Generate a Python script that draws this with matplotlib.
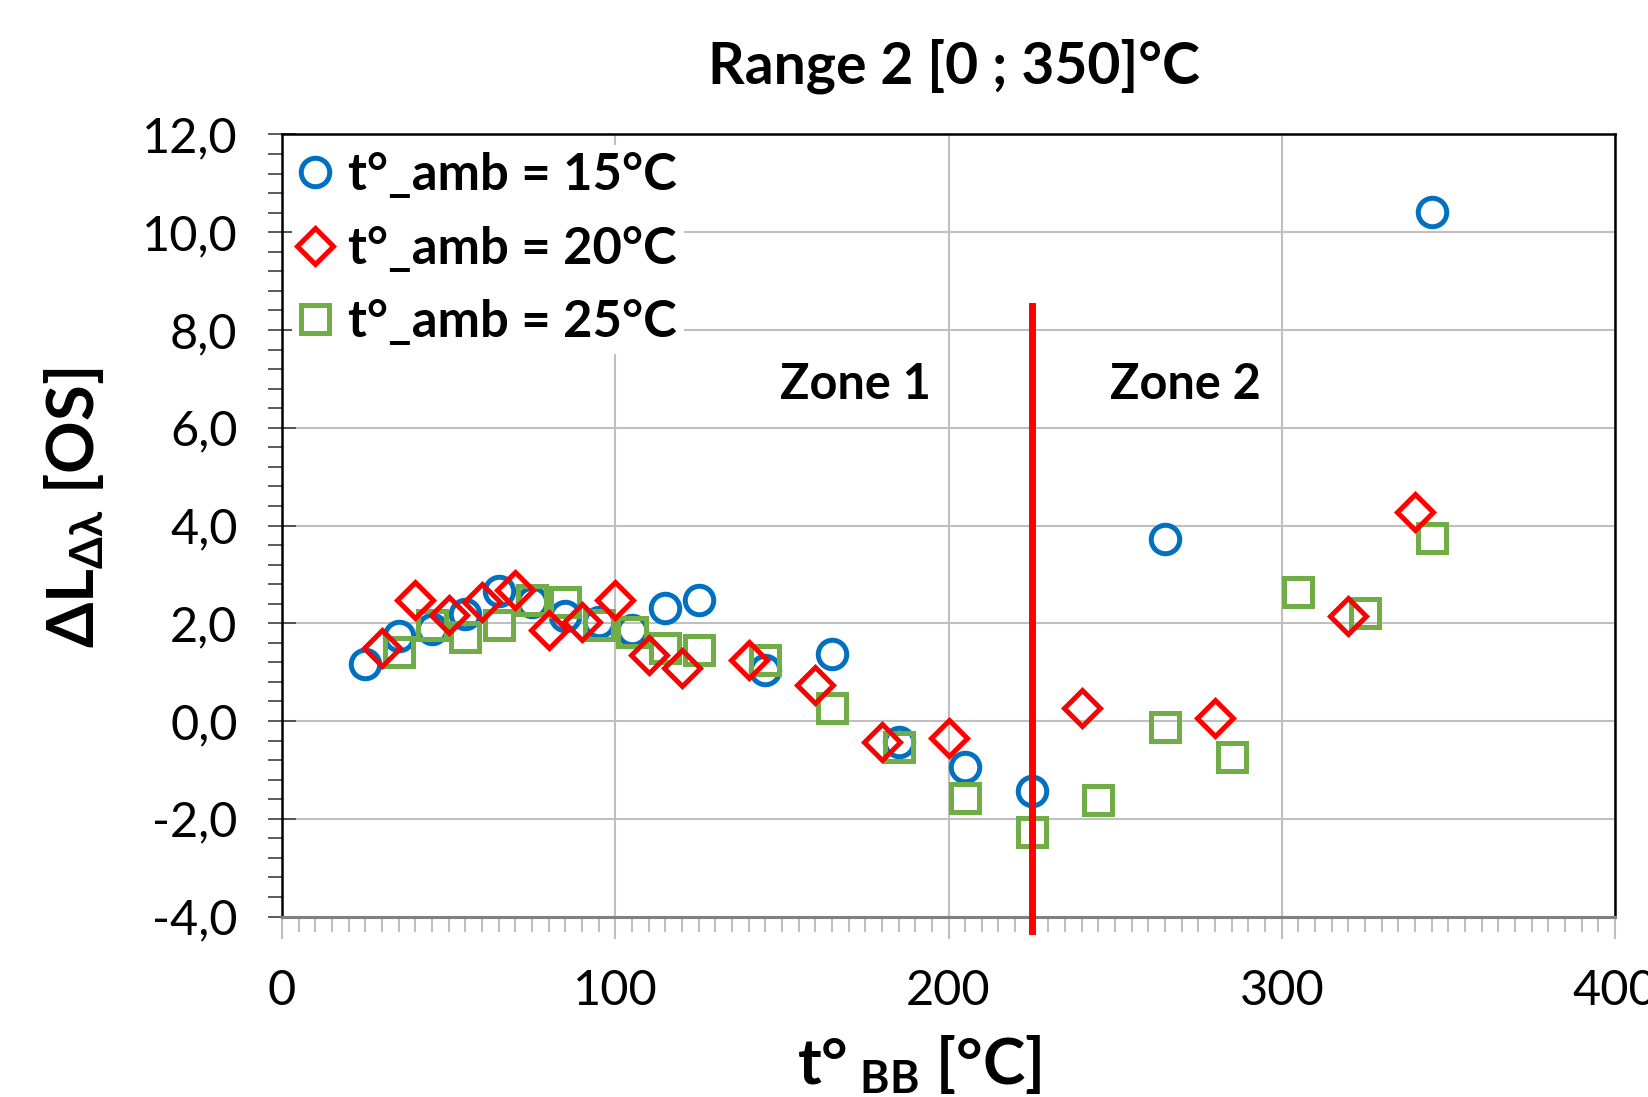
import numpy as np
import matplotlib
matplotlib.use("Agg")
import matplotlib.pyplot as plt
from matplotlib.ticker import MultipleLocator, FuncFormatter

plt.rcParams["font.family"] = ["Lato", "DejaVu Sans"]
plt.rcParams["mathtext.fontset"] = "custom"
plt.rcParams["mathtext.rm"] = "Lato"
plt.rcParams["mathtext.bf"] = "Lato:bold"
plt.rcParams["mathtext.it"] = "Lato:italic"

# Data
t_bb_15 = [25, 35, 45, 55, 65, 75, 85, 95, 105, 115, 125, 145, 165, 185, 205, 225, 265, 345]
dl_15 = [1.16, 1.74, 1.89, 2.19, 2.67, 2.43, 2.15, 2.02, 1.87, 2.32, 2.47, 1.05, 1.38,
         -0.43, -0.95, -1.44, 3.73, 10.41]

t_bb_20 = [30, 40, 50, 60, 70, 80, 90, 100, 110, 120, 140, 160, 180, 200, 240, 280, 320, 340]
dl_20 = [1.49, 2.47, 2.17, 2.43, 2.68, 1.87, 2.02, 2.47, 1.35, 1.08, 1.25, 0.73, -0.43,
         -0.35, 0.27, 0.06, 2.15, 4.28]

t_bb_25 = [35, 45, 55, 65, 75, 85, 95, 105, 115, 125, 145, 165, 185, 205, 225, 245, 265,
           285, 305, 325, 345]
dl_25 = [1.41, 1.96, 1.72, 1.96, 2.47, 2.44, 1.96, 1.82, 1.49, 1.45, 1.25, 0.27, -0.53,
         -1.58, -2.27, -1.62, -0.13, -0.74, 2.64, 2.21, 3.74]

labels = ["t°_amb = 15°C", "t°_amb = 20°C", "t°_amb = 25°C"]
zone_limit = 225

BLUE = "#0070C0"
RED = "#FF0000"
GREEN = "#70AD47"

fig = plt.figure(figsize=(16.48, 10.97), dpi=100)
ax = fig.add_axes([0.1711, 0.1645, 0.8089, 0.7129])

h15, = ax.plot(t_bb_15, dl_15, "o", ms=20.5, mfc="none", mec=BLUE, mew=3.6,
               label=labels[0], zorder=3)
h25, = ax.plot(t_bb_25, dl_25, "s", ms=20.5, mfc="none", mec=GREEN, mew=3.6,
               label=labels[2], zorder=4)
h20, = ax.plot(t_bb_20, dl_20, "D", ms=18.5, mfc="none", mec=RED, mew=3.6,
               label=labels[1], zorder=5)

# zone separator
ax.plot([zone_limit, zone_limit], [-4.3, 8.5], color=RED, lw=5, clip_on=False, zorder=6)
ax.text(172, 6.88, "Zone 1", ha="center", va="center", fontsize=35, fontweight="bold")
ax.text(271, 6.88, "Zone 2", ha="center", va="center", fontsize=35, fontweight="bold")

ax.set_xlim(0, 400)
ax.set_ylim(-4, 12)
ax.xaxis.set_major_locator(MultipleLocator(100))
ax.xaxis.set_minor_locator(MultipleLocator(5))
ax.yaxis.set_major_locator(MultipleLocator(2))
ax.yaxis.set_minor_locator(MultipleLocator(0.4))
ax.yaxis.set_major_formatter(FuncFormatter(lambda v, p: f"{v:.1f}".replace(".", ",")))

ax.grid(True, which="major", color="#BFBFBF", lw=1.5, zorder=0)
ax.set_axisbelow(True)

ax.tick_params(axis="both", which="major", labelsize=35, pad=22)
ax.tick_params(axis="y", which="major", direction="inout", length=20, width=1.2, color="#404040")
ax.tick_params(axis="y", which="minor", direction="out", length=10, width=1.2, color="#404040")
ax.tick_params(axis="x", which="major", direction="out", length=16, width=1.5, color="#BFBFBF")
ax.tick_params(axis="x", which="minor", direction="out", length=11, width=1.5, color="#BFBFBF")

for side in ["left", "right", "top"]:
    ax.spines[side].set_color("black")
    ax.spines[side].set_linewidth(1.8)
ax.spines["bottom"].set_color("#808080")
ax.spines["bottom"].set_linewidth(2.2)

leg = ax.legend(handles=[h15, h20, h25], loc="upper left", frameon=True, framealpha=1,
                edgecolor="none", facecolor="white", fancybox=False,
                prop={"size": 36.5, "weight": "bold"}, handlelength=0.6,
                handletextpad=0.35, labelspacing=0.52, borderpad=0.15,
                borderaxespad=0.2)
leg.set_zorder(7)

fig.text(0.579, 0.940, "Range 2 [0 ; 350]°C", ha="center", va="center",
         fontsize=41, fontweight="bold")
fig.text(0.558, 0.030, r"$\mathbf{t°}_{\mathbf{\ BB}}$ [°C]", ha="center", va="center",
         fontsize=46, fontweight="bold")
fig.text(0.045, 0.537, r"$\mathbf{ΔL_{Δλ}}$ [OS]", ha="center", va="center",
         rotation=90, fontsize=47, fontweight="bold")

fig.savefig("out.png", dpi=100)
